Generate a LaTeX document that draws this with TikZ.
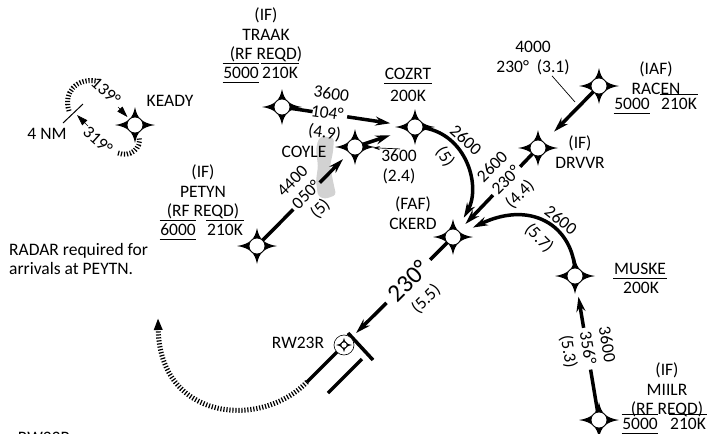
\documentclass[tikz,border=0pt]{standalone}
\usepackage{fontspec}
\setmainfont{Carlito}
\usetikzlibrary{arrows.meta,calc}

\begin{document}
\begin{tikzpicture}[x=1pt,y=-1pt,
	every node/.style={font=\fontsize{17.5}{19.5}\selectfont, inner sep=1pt, align=center},
	route/.style={line width=3.5pt},
	rarr/.style={route, -{Stealth[length=15pt,width=9pt,inset=5pt]}},
	lead/.style={line width=0.7pt},
	hash/.style={line width=5pt, dash pattern=on 1.2pt off 1.8pt},
	bar/.style={line width=0.9pt},
	alt/.style={inner xsep=0.5pt, inner ysep=3.5pt, text height=11.4pt, text depth=0pt},
	fix/.pic={
		\fill (-20,0) .. controls (-7,-2) and (-2,-7) .. (0,-18)
			.. controls (2,-7) and (7,-2) .. (20,0)
			.. controls (7,2) and (2,7) .. (0,18)
			.. controls (-2,7) and (-7,2) .. cycle;
		\filldraw[fill=white, line width=0.8pt] (0,0) circle (8);
	}]
	\useasboundingbox (0,0) rectangle (713,434);
	\fill[white] (0,0) rectangle (713,434);

	% fixes
	\coordinate (keady) at (135,125);
	\coordinate (traak) at (282,107);
	\coordinate (cozrt) at (415,127);
	\coordinate (coyle) at (355,147);
	\coordinate (racen) at (599,86);
	\coordinate (drvvr) at (538,148);
	\coordinate (ckerd) at (453,237);
	\coordinate (petyn) at (257,246);
	\coordinate (muske) at (575,276);
	\coordinate (miilr) at (599,420);
	\coordinate (rw23r) at (344,345);

	% terrain
	\fill[gray!35, rounded corners=3pt] (322,136) -- (334,138) -- (333,152) -- (330,166) -- (333,181) -- (336,195)
		-- (325,199) -- (318,196) -- (316,181) -- (318,166) -- (316,150) -- (318,140) -- cycle;

	% holding pattern at KEADY
	\coordinate (hdA) at (69,111);
	\coordinate (hdB) at (96,81);
	\coordinate (hdC) at (118,153);
	\coordinate (hdD) at (139,137);
	\coordinate (tk1) at (63,123);
	\coordinate (tk2) at (83,104);
	\draw[hash] (hdA) .. controls (63,92) and (77,78) .. (hdB);
	\draw[hash] (hdC) .. controls (130,158) and (142,148) .. (hdD);
	\draw[line width=1pt] (tk1) -- (tk2);
	\draw[line width=0.6pt, -{Triangle[length=11pt,width=7pt]}, shorten >=11pt] (118,107) -- (keady);
	\draw[line width=0.6pt, -{Triangle[length=11pt,width=7pt]}] (88,126) -- (77,115);
	\node[rotate=-42] at (106,91) {139°};
	\node[rotate=-42] at (98,140) {319°};
	\node at (47,134) {4 NM};
	\node at (170,101) {KEADY};

	% TRAAK - COZRT
	\draw[route] (traak) -- ($(traak)!0.23!(cozrt)$);
	\draw[rarr, shorten >=25pt] ($(traak)!0.49!(cozrt)$) -- (cozrt);
	\node[rotate=-8, align=left] at ($(traak)!0.35!(cozrt)$) {3600\\104°\\(4.9)};

	% COYLE - COZRT
	\draw[rarr, shorten >=26pt] (coyle) -- (cozrt);
	\node (coylelbl) at (399,167) {3600\\(2.4)};
	\draw[lead, -{Stealth[length=7pt,width=4pt]}, shorten >=18pt] ([xshift=1pt]coylelbl.north) -- (coyle);

	% PETYN - COYLE
	\draw[route] (petyn) -- ($(petyn)!0.37!(coyle)$);
	\draw[rarr, shorten >=17pt] ($(petyn)!0.64!(coyle)$) -- (coyle);
	\node[rotate=45] at ($(petyn)!0.51!(coyle)$) {4400\\050°\\(5)};

	% RACEN - DRVVR
	\draw[rarr, shorten >=23pt] (racen) -- (drvvr);
	\node (racenlbl) at (533,58) {4000\\230°~~(3.1)};
	\coordinate (racenld) at (575,102);
	\draw[lead] ([xshift=19pt]racenlbl.south) -- (racenld);

	% DRVVR - CKERD
	\draw[route] (drvvr) -- ($(drvvr)!0.21!(ckerd)$);
	\draw[rarr, shorten >=18pt] ($(drvvr)!0.53!(ckerd)$) -- (ckerd);
	\node[rotate=45] at ($(drvvr)!0.37!(ckerd)$) {2600\\230°\\(4.4)};

	% COZRT - CKERD
	\draw[rarr, shorten >=22pt] (cozrt) .. controls (465,128) and (482,185) .. (ckerd);
	\node[rotate=-42] at (466,140) {2600};
	\node[rotate=-55] at (445,157) {(5)};

	% MUSKE - CKERD
	\draw[rarr, shorten >=22pt] (muske) .. controls (576,230) and (535,198) .. (ckerd);
	\node[rotate=-38] at (561,220) {2600};
	\node[rotate=-45] at (539,238) {(5.7)};

	% MIILR - MUSKE
	\draw[route] (miilr) -- ($(miilr)!0.35!(muske)$);
	\draw[rarr, shorten >=21pt] ($(miilr)!0.64!(muske)$) -- (muske);
	\node[rotate=-80] at ($(miilr)!0.50!(muske)$) {3600\\356°\\(5.3)};

	% CKERD - RW23R
	\draw[route] (ckerd) -- ($(ckerd)!0.21!(rw23r)$);
	\draw[rarr, shorten >=17pt] ($(ckerd)!0.61!(rw23r)$) -- (rw23r);
	\node[rotate=45, font=\fontsize{25}{25}\selectfont] at ($(ckerd)!0.41!(rw23r)$) {230°};
	\node[rotate=45] at (426,299) {(5.5)};

	% runway and missed approach
	\coordinate (rwyend) at (307,382);
	\coordinate (thr1) at (348,333);
	\coordinate (thr2) at (373,360);
	\coordinate (rwy1) at (362,359);
	\coordinate (rwy2) at (328,393);
	\coordinate (mapt) at (158,318);
	\draw[route] (rw23r) -- (rwyend);
	\draw[route] (thr1) -- (thr2);
	\draw[route] (rwy1) -- (rwy2);
	\draw[hash, -{Triangle[length=12pt,width=8pt]}] (rwyend) .. controls (260,430) and (160,420) .. (mapt);

	% labels
	\node at (266,35) {(IF)\\TRAAK\\(RF REQD)};
	\node[alt] (traakalt) at (241,73) {5000};
	\node[alt] (traakspd) at (280,73) {210K};
	\draw[bar] (traakalt.north west) -- (traakalt.north east) (traakalt.south west) -- (traakalt.south east)
		(traakspd.north west) -- (traakspd.north east);

	\node[alt] (cozrtname) at (408,74) {COZRT};
	\draw[bar] (cozrtname.south west) -- (cozrtname.south east);
	\node at (408,96) {200K};

	\node at (304,152) {COYLE};

	\node at (203,192) {(IF)\\PETYN\\(RF REQD)};
	\node[alt] (petynalt) at (178,230) {6000};
	\node[alt] (petynspd) at (225,230) {210K};
	\draw[bar] (petynalt.north west) -- (petynalt.north east) (petynalt.south west) -- (petynalt.south east)
		(petynspd.north west) -- (petynspd.north east);

	\node[anchor=west, align=left] at (8,259) {RADAR required for\\arrivals at PEYTN.};

	\node at (656,78) {(IAF)\\RACEN};
	\node[alt] (racenalt) at (632,104) {5000};
	\node[alt] (racenspd) at (679,104) {210K};
	\draw[bar] (racenalt.south west) -- (racenalt.south east) (racenspd.north west) -- (racenspd.north east);

	\node at (580,152) {(IF)\\DRVVR};
	\node at (413,213) {(FAF)\\CKERD};

	\node[alt] (muskename) at (640,269) {MUSKE};
	\draw[bar] (muskename.south west) -- (muskename.south east);
	\node at (641,288) {200K};

	\node at (667,390) {(IF)\\MIILR\\(RF REQD)};
	\node[alt] (miilralt) at (640,424) {5000};
	\node[alt] (miilrspd) at (688,424) {210K};
	\draw[bar] (miilralt.north west) -- (miilralt.north east) (miilralt.south west) -- (miilralt.south east)
		(miilrspd.north west) -- (miilrspd.north east);

	\node at (298,343) {RW23R};
	\node at (44,438) {RW23R};

	% fix symbols
	\pic at (keady) {fix};
	\pic at (traak) {fix};
	\pic at (cozrt) {fix};
	\pic at (coyle) {fix};
	\pic at (racen) {fix};
	\pic at (drvvr) {fix};
	\pic at (ckerd) {fix};
	\pic at (petyn) {fix};
	\pic at (muske) {fix};
	\pic at (miilr) {fix};
	\filldraw[fill=white, line width=0.6pt] (rw23r) circle (10);
	\pic[scale=0.4] at (rw23r) {fix};
\end{tikzpicture}
\end{document}
